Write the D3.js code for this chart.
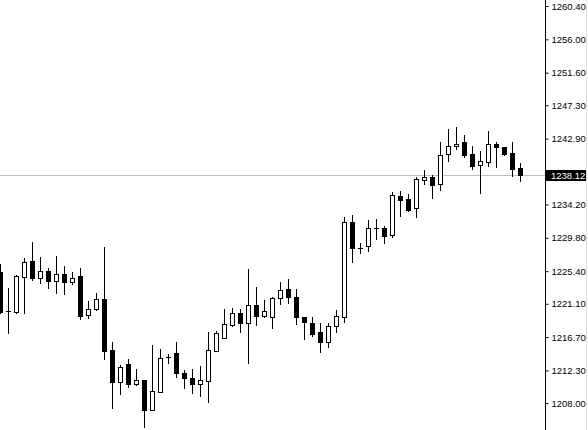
<!DOCTYPE html>
<html><head><meta charset="utf-8">
<script src="https://cdn.jsdelivr.net/npm/d3@7"></script>
<style>html,body{margin:0;padding:0;background:#fff;}svg{display:block;}</style>
</head><body><div id="chart"></div>
<script>
// OHLC candle data
const opens  = [1225.29,1220.14,1220.01,1224.63,1226.74,1224.50,1225.42,1224.10,1225.02,1223.97,1224.76,1219.61,1220.40,1221.72,1214.99,1210.77,1213.14,1210.50,1211.03,1207.07,1209.45,1214.07,1214.60,1211.96,1211.30,1210.50,1210.90,1214.86,1216.58,1218.29,1219.88,1218.56,1220.93,1219.48,1219.35,1221.86,1223.04,1221.99,1219.35,1218.56,1217.37,1216.05,1218.16,1219.35,1231.89,1228.46,1228.72,1231.10,1231.10,1230.17,1235.32,1234.92,1233.74,1237.43,1237.83,1236.90,1240.86,1241.92,1242.45,1240.86,1239.41,1239.81,1242.18,1241.79,1241.00,1239.02];
const highs  = [1226.34,1223.18,1224.89,1227.14,1229.25,1227.27,1225.82,1227.40,1226.08,1225.29,1225.82,1221.46,1222.52,1228.59,1216.05,1213.01,1213.80,1212.48,1211.03,1215.65,1215.12,1214.46,1216.05,1212.35,1212.48,1212.88,1217.37,1217.50,1220.40,1220.54,1220.40,1225.68,1223.31,1221.59,1221.99,1223.97,1224.36,1223.04,1219.35,1219.35,1218.56,1218.56,1220.27,1232.55,1232.81,1229.12,1232.15,1232.28,1231.36,1235.85,1235.98,1235.58,1237.83,1238.75,1238.09,1242.45,1244.16,1244.43,1243.37,1241.92,1241.26,1243.90,1242.45,1241.79,1242.45,1239.68];
const lows   = [1219.88,1217.24,1219.88,1219.88,1224.23,1223.84,1223.18,1222.52,1222.38,1223.70,1219.08,1219.22,1220.27,1213.80,1207.34,1209.18,1210.11,1210.37,1204.83,1207.07,1209.45,1213.28,1211.43,1209.98,1209.32,1208.92,1208.13,1214.86,1216.58,1218.16,1217.37,1213.28,1218.29,1219.35,1217.90,1221.06,1221.20,1218.42,1216.44,1216.84,1214.73,1215.39,1217.37,1218.69,1226.61,1227.80,1228.06,1229.64,1229.12,1229.91,1232.68,1233.34,1232.55,1236.90,1235.06,1236.11,1239.94,1241.52,1240.47,1238.88,1235.72,1239.28,1239.15,1240.73,1237.96,1237.30];
const closes = [1220.01,1220.14,1224.76,1226.61,1224.50,1225.42,1224.10,1225.02,1223.97,1224.50,1219.48,1220.40,1221.72,1214.86,1210.77,1212.75,1210.50,1211.03,1207.07,1209.58,1213.94,1214.07,1211.96,1211.30,1210.50,1211.03,1214.99,1217.24,1218.42,1219.88,1218.56,1220.93,1219.48,1220.14,1221.86,1222.91,1221.99,1219.35,1218.69,1217.10,1216.05,1218.16,1219.48,1231.89,1228.46,1228.46,1231.10,1231.10,1230.04,1235.45,1234.79,1233.47,1237.56,1237.83,1236.77,1240.73,1241.92,1242.18,1240.73,1239.28,1239.94,1242.18,1241.79,1240.86,1238.88,1238.12];
const tickValues = [1260.40,1256.00,1251.60,1247.30,1242.90,1234.20,1229.80,1225.40,1221.10,1216.70,1212.30,1208.00];
const lastPrice = 1238.12;

const W = 588, H = 430;
const data = opens.map((o,i)=>({i, o, h:highs[i], l:lows[i], c:closes[i]}));

const svg = d3.select("#chart").append("svg").attr("width",W).attr("height",H);

const x = d3.scaleLinear().domain([0, data.length-1]).range([0, 520]);
const y = d3.scaleLinear().domain([1208.00, 1260.40]).range([403, 6]);
const axisX = 545;

const py = v => Math.round(y(v));

// price line
svg.append("line")
  .attr("x1",0).attr("x2",axisX).attr("y1",py(lastPrice)+0.5).attr("y2",py(lastPrice)+0.5)
  .attr("stroke","#c0c0c0").attr("stroke-width",1);

const g = svg.append("g");
// wicks
g.selectAll("line.wick").data(data).join("line")
  .attr("class","wick")
  .attr("x1",d=>Math.round(x(d.i))+0.5).attr("x2",d=>Math.round(x(d.i))+0.5)
  .attr("y1",d=>py(d.h)).attr("y2",d=>py(d.l)+1)
  .attr("stroke","#000").attr("stroke-width",1);

// bodies
data.forEach(d=>{
  const cx = Math.round(x(d.i));
  const top = py(Math.max(d.o,d.c)), bot = py(Math.min(d.o,d.c));
  if (bot - top < 1) {
    g.append("line").attr("x1",cx-2).attr("x2",cx+3)
      .attr("y1",top+0.5).attr("y2",top+0.5).attr("stroke","#000").attr("stroke-width",1);
  } else {
    g.append("rect").attr("x",cx-2+0.5).attr("y",top+0.5)
      .attr("width",4).attr("height",bot-top)
      .attr("fill", d.c>=d.o ? "#fff" : "#000")
      .attr("stroke","#000").attr("stroke-width",1);
  }
});

// right axis
const axis = d3.axisRight(y).tickValues(tickValues).tickSize(3).tickPadding(3)
  .tickFormat(d3.format(".2f"));
const ag = svg.append("g").attr("transform",`translate(${axisX+0.5},0)`).call(axis);
ag.select(".domain").attr("d",`M0,0V${H}`).attr("stroke","#000");
ag.selectAll(".tick line").attr("stroke","#000");
ag.selectAll(".tick text").attr("font-family","'Liberation Sans', Arial, sans-serif")
  .attr("font-size","9.5px").attr("fill","#000");
ag.attr("font-size",null).attr("font-family",null);

// last price label
const lp = svg.append("g").attr("transform",`translate(${axisX},${py(lastPrice)})`);
lp.append("rect").attr("x",1).attr("y",-5).attr("width",W-axisX-3).attr("height",11).attr("fill","#000");
lp.append("text").attr("x",6).attr("y",0.5).attr("dy","0.35em")
  .attr("font-family","'Liberation Sans', Arial, sans-serif").attr("font-size","9.5px")
  .attr("fill","#fff").text(d3.format(".2f")(lastPrice));

// right border
svg.append("line").attr("x1",W-1.5).attr("x2",W-1.5).attr("y1",0).attr("y2",H)
  .attr("stroke","#e0e0e0");
</script></body></html>
